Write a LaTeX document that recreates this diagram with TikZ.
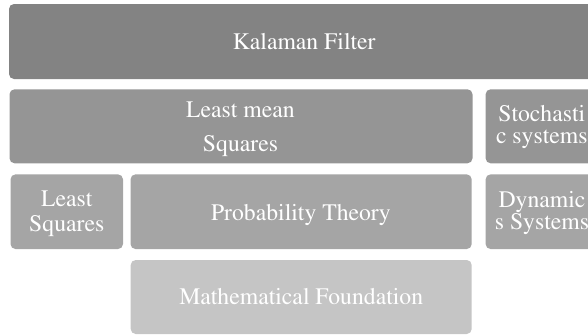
\documentclass[tikz,border=0pt]{standalone}
\usepackage[T1]{fontenc}
\usepackage{times}
\definecolor{lvA}{HTML}{838383}
\definecolor{lvB}{HTML}{959595}
\definecolor{lvC}{HTML}{A5A5A5}
\definecolor{lvD}{HTML}{C5C5C5}
\begin{document}
\begin{tikzpicture}[x=1pt,y=-1pt,
  box/.style={rounded corners=5pt, inner sep=0pt, draw=none},
  lbl/.style={text=white, inner sep=0pt, anchor=base,
    font=\fontsize{23.7}{28}\selectfont}]
\useasboundingbox (0,0) rectangle (588,335);
\clip (0,0) rectangle (588,335);
% boxes
\node[box, fill=lvA, minimum width=590pt, minimum height=75pt] (kf) at (304,41.5) {};
\node[box, fill=lvB, minimum width=463pt, minimum height=74pt] (lms) at (241,126.3) {};
\node[box, fill=lvB, minimum width=112.4pt, minimum height=74pt] (sto) at (541.8,126.3) {};
\node[box, fill=lvC, minimum width=112.5pt, minimum height=74.7pt] (ls) at (66.75,211.7) {};
\node[box, fill=lvC, minimum width=341.2pt, minimum height=74.7pt] (pt) at (301.1,211.7) {};
\node[box, fill=lvC, minimum width=112.4pt, minimum height=74.7pt] (dyn) at (541.8,211.7) {};
\node[box, fill=lvD, minimum width=341pt, minimum height=74pt] (mf) at (301.2,297) {};
% labels (placed by baseline)
\node[lbl] (kfT) at (304.2,49.3) {Kalaman Filter};
\node[lbl] (lmsT1) at (240.5,117.5) {Least mean};
\node[lbl] (lmsT2) at (240.5,151.7) {Squares};
\node[lbl] (stoT1) at (541.8,121.3) {Stochasti};
\node[lbl] (stoT2) at (541.8,143) {c systems};
\node[lbl] (lsT1) at (66.75,206.7) {Least};
\node[lbl] (lsT2) at (66.75,231.7) {Squares};
\node[lbl] (ptT) at (300.9,220) {Probability Theory};
\node[lbl] (dynT1) at (542,207.3) {Dynamic};
\node[lbl] (dynT2) at (542,229) {s Systems};
\node[lbl] (mfT) at (301.2,304) {Mathematical Foundation};
\end{tikzpicture}
\end{document}
